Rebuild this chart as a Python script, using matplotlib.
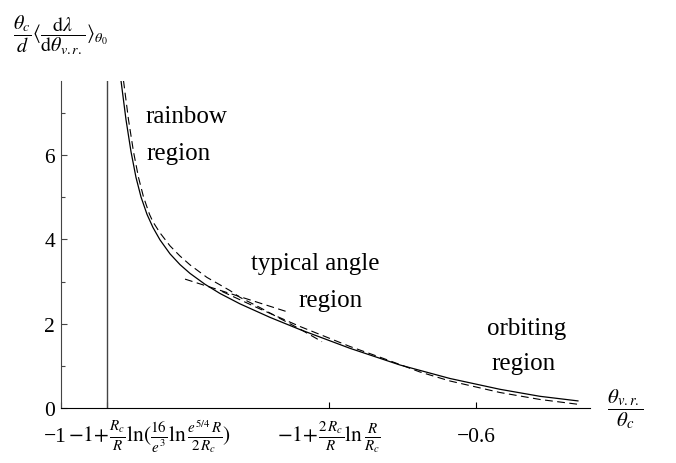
import matplotlib
matplotlib.use('Agg')
import matplotlib.pyplot as plt
from matplotlib.transforms import ScaledTranslation

plt.rcParams['font.family'] = ['Liberation Serif', 'DejaVu Serif']
plt.rcParams['mathtext.fontset'] = 'stix'

# full curve
x_full = [-0.94191, -0.93709, -0.93227, -0.92746, -0.92264, -0.91686, -0.91108,
          -0.90434, -0.89470, -0.88507, -0.87544, -0.86098, -0.84653, -0.82726,
          -0.79836, -0.76946, -0.72129, -0.67312, -0.62495, -0.57678, -0.53825,
          -0.50164]
y_full = [7.763, 6.837, 6.079, 5.469, 5.007, 4.595, 4.282,
          3.990, 3.659, 3.404, 3.196, 2.938, 2.720, 2.474,
          2.154, 1.865, 1.421, 1.026, 0.706, 0.450, 0.284,
          0.175]

# rainbow approximation
x_rain = [-0.93950, -0.93468, -0.92987, -0.92505, -0.92023, -0.91445, -0.91108,
          -0.90434, -0.89470, -0.88507, -0.87544, -0.85906, -0.83690, -0.82726,
          -0.80800, -0.78873, -0.76946, -0.74827]
y_rain = [7.763, 6.838, 6.079, 5.469, 5.007, 4.595, 4.415,
          4.156, 3.848, 3.607, 3.398, 3.100, 2.789, 2.628,
          2.386, 2.128, 1.877, 1.578]

# typical angle approximation
x_typ = [-0.8802, -0.8306, -0.7810]
y_typ = [3.06, 2.67, 2.28]

# orbiting approximation
x_orb = [-0.84461, -0.80800, -0.76946, -0.72129, -0.68950, -0.65385, -0.62495,
         -0.57678, -0.53825, -0.50164]
y_orb = [2.768, 2.353, 1.938, 1.464, 1.185, 0.860, 0.647,
         0.374, 0.209, 0.095]

x_rainbow_angle = -0.9557
tick_pos = [-1.0, x_rainbow_angle, -0.7415, -0.6]
tick_lab = ['\u22121',
            r'$-1\!+\!\frac{R_c}{R}\ln(\frac{16}{e^3}\ln\frac{e^{5/4}\,R}{2\,R_c})$',
            r'$-1\!+\!\frac{2\,R_c}{R}\ln\frac{R}{R_c}$',
            '\u22120.6']

fig = plt.figure(figsize=(6.76, 4.64), dpi=100)
ax = fig.add_axes([0.0898, 0.1179, 0.7830, 0.7060])

ax.plot(x_full, y_full, color='black', lw=0.9)
dash = dict(color='black', lw=0.8, dashes=(7, 4))
ax.plot(x_rain, y_rain, **dash)
ax.plot(x_typ, y_typ, **dash)
ax.plot(x_orb, y_orb, **dash)
ax.plot([x_rainbow_angle, x_rainbow_angle], [0, 7.76], color='#444444', lw=1.0)

ax.set_xlim(-1.0, -0.490)
ax.set_ylim(0, 7.76)
ax.spines['top'].set_visible(False)
ax.spines['right'].set_visible(False)
ax.spines['left'].set_color('#444444')
ax.spines['bottom'].set_color('black')

ax.set_yticks([0, 2, 4, 6])
ax.set_yticks([1, 3, 5, 7], minor=True)
ax.tick_params(axis='y', which='major', direction='in', length=4.3, width=0.8,
               colors='#444444', labelcolor='black', labelsize=15.5, pad=4)
ax.tick_params(axis='y', which='minor', direction='in', length=3, width=0.8,
               colors='#444444')

ax.set_xticks(tick_pos)
ax.set_xticklabels(tick_lab)
ax.tick_params(axis='x', direction='in', length=4, width=0.8, labelsize=15.5, pad=20)
shifts = [-5, 43, 0, 0]
for lab, dx in zip(ax.get_xticklabels(), shifts):
    lab.set_va('center')
    lab.set_transform(lab.get_transform() + ScaledTranslation(dx / 100, 0, fig.dpi_scale_trans))

txt = dict(fontsize=18, color='black', va='baseline', ha='left')
ax.text(-0.9188, 6.78, 'rainbow', **txt)
ax.text(-0.9169, 5.91, 'region', **txt)
ax.text(-0.8167, 3.30, 'typical angle', **txt)
ax.text(-0.7714, 2.42, 'region', **txt)
ax.text(-0.5893, 1.76, 'orbiting', **txt)
ax.text(-0.5845, 0.93, 'region', **txt)

fig.text(61 / 676, 1 - 35 / 464,
         r'$\dfrac{\theta_c}{d}\langle\dfrac{\mathrm{d}\lambda}{\mathrm{d}\theta_{v.r.}}\rangle_{\theta_0}$',
         fontsize=14.5, ha='center', va='center')
fig.text(625 / 676, 1 - 409 / 464, r'$\dfrac{\theta_{v.r.}}{\theta_c}$',
         fontsize=15, ha='center', va='center')

fig.savefig('out.png', dpi=100)
